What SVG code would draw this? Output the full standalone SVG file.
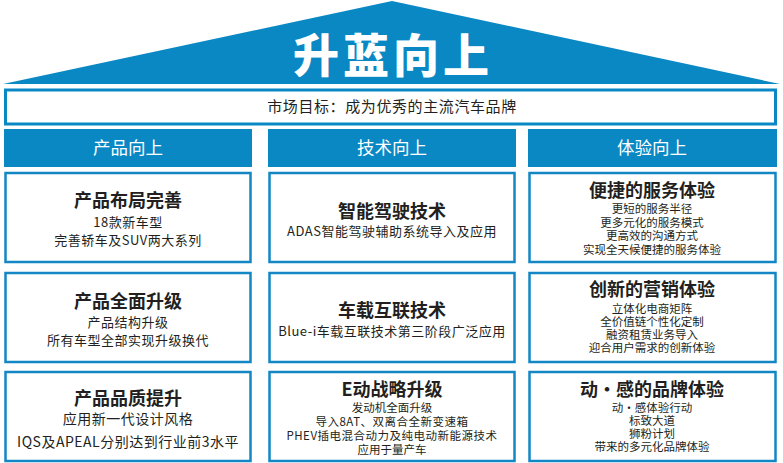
<svg xmlns="http://www.w3.org/2000/svg" width="783" height="463" viewBox="0 0 783 463">
<style>
.bl{fill:#0a88c4}
.box{fill:#fff;stroke:#1287c4;stroke-width:2.5}
text{font-family:"Noto Sans CJK SC","Noto Sans",sans-serif;text-anchor:middle;fill:#231f20}
.hd{fill:#fff;font-size:17.5px}
.t{font-size:18px;font-weight:bold}
.s{font-size:13px;letter-spacing:0.5px}
.s3{font-size:11.5px}
</style>
<g id="roof">
<polygon class="bl" points="392,1 3,84 780,84"/>
<text x="393" y="72" style="fill:#fff;font-size:46px;font-weight:900;letter-spacing:4px">升蓝向上</text>
</g>
<g id="goal">
<rect x="5.5" y="90" width="770" height="34" fill="#fff" stroke="#0a88c4" stroke-width="3"/>
<text x="392" y="112" style="font-size:15px;letter-spacing:0.6px">市场目标：成为优秀的主流汽车品牌</text>
</g>
<g id="h1"><rect class="bl" x="4" y="129" width="248" height="38"/><text class="hd" x="128" y="154">产品向上</text></g>
<g id="h2"><rect class="bl" x="268" y="129" width="248" height="38"/><text class="hd" x="392" y="154">技术向上</text></g>
<g id="h3"><rect class="bl" x="528" y="129" width="249" height="38"/><text class="hd" x="652" y="154">体验向上</text></g>

<g id="p1"><rect class="box" x="5.5" y="173" width="245" height="89"/>
<text class="t" x="128" y="207">产品布局完善</text>
<text class="s" x="128" y="227">18款新车型</text>
<text class="s" x="128" y="245">完善轿车及SUV两大系列</text></g>
<g id="p2"><rect class="box" x="5.5" y="273" width="245" height="89"/>
<text class="t" x="128" y="308">产品全面升级</text>
<text class="s" x="128" y="327">产品结构升级</text>
<text class="s" x="128" y="345">所有车型全部实现升级换代</text></g>
<g id="p3"><rect class="box" x="5.5" y="372" width="245" height="89"/>
<text class="t" x="128" y="405">产品品质提升</text>
<text class="s" x="128" y="424" style="font-size:14px">应用新一代设计风格</text>
<text class="s" x="128" y="447" style="font-size:14px">IQS及APEAL分别达到行业前3水平</text></g>

<g id="t1"><rect class="box" x="269.5" y="173" width="245" height="89"/>
<text class="t" x="392" y="218">智能驾驶技术</text>
<text class="s" x="392" y="236">ADAS智能驾驶辅助系统导入及应用</text></g>
<g id="t2"><rect class="box" x="269.5" y="273" width="245" height="89"/>
<text class="t" x="392" y="317">车载互联技术</text>
<text class="s" x="392" y="336">Blue-i车载互联技术第三阶段广泛应用</text></g>
<g id="t3"><rect class="box" x="269.5" y="372" width="245" height="89"/>
<text class="t" x="392" y="396">E动战略升级</text>
<text class="s3" x="392" y="412">发动机全面升级</text>
<text class="s3" x="392" y="426" style="letter-spacing:0.5px">导入8AT、双离合全新变速箱</text>
<text class="s3" x="392" y="440" style="letter-spacing:0.5px">PHEV插电混合动力及纯电动新能源技术</text>
<text class="s3" x="392" y="454">应用于量产车</text></g>

<g id="e1"><rect class="box" x="529.5" y="173" width="246" height="89"/>
<text class="t" x="652" y="197">便捷的服务体验</text>
<text class="s3" x="652" y="213">更短的服务半径</text>
<text class="s3" x="652" y="226.5">更多元化的服务模式</text>
<text class="s3" x="652" y="240">更高效的沟通方式</text>
<text class="s3" x="652" y="253.5">实现全天候便捷的服务体验</text></g>
<g id="e2"><rect class="box" x="529.5" y="273" width="246" height="89"/>
<text class="t" x="652" y="296">创新的营销体验</text>
<text class="s3" x="652" y="312.5">立体化电商矩阵</text>
<text class="s3" x="652" y="325.5">全价值链个性化定制</text>
<text class="s3" x="652" y="338.5">融资租赁业务导入</text>
<text class="s3" x="652" y="351.5">迎合用户需求的创新体验</text></g>
<g id="e3"><rect class="box" x="529.5" y="372" width="246" height="89"/>
<text class="t" x="652" y="396">动·感的品牌体验</text>
<text class="s3" x="652" y="412">动·感体验行动</text>
<text class="s3" x="652" y="425">标致大道</text>
<text class="s3" x="652" y="438">狮粉计划</text>
<text class="s3" x="652" y="451">带来的多元化品牌体验</text></g>
<g id="connectors"/>
</svg>
